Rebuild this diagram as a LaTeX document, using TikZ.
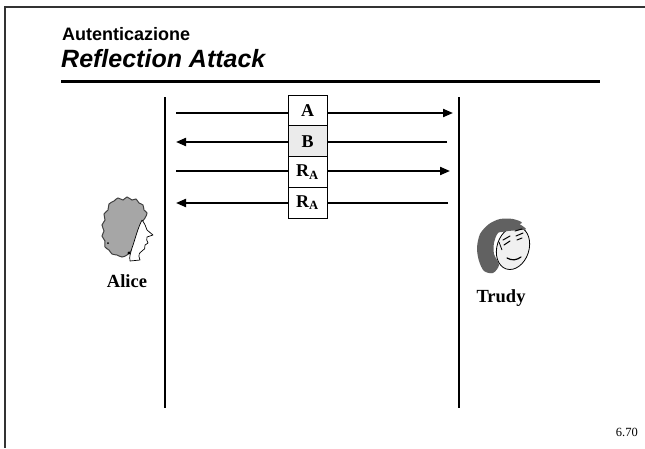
\documentclass[tikz,border=0pt]{standalone}
\usepackage{fontspec}
\setmainfont{Liberation Serif}
\newfontfamily\headfont{Liberation Sans}
\usetikzlibrary{arrows.meta}
\begin{document}
\begin{tikzpicture}[x=1pt,y=-1pt,
  lifeline/.style={line width=2.2pt},
  msg/.style={line width=2pt,-{Triangle[length=10pt,width=8pt]}},
  msgbox/.style={draw,line width=0.8pt,fill=white,minimum width=39pt,minimum height=30.8pt,inner sep=0pt,font=\bfseries\fontsize{18}{18}\selectfont},
  who/.style={font=\bfseries\fontsize{18.5}{18}\selectfont},
  framel/.style={line width=2pt,draw=black!80}]
\useasboundingbox (0,0) rectangle (645,448);
% slide frame
\coordinate (fTL) at (5,7);
\coordinate (fTR) at (645,7);
\coordinate (fBL) at (5,448);
\draw[framel] (fTR) -- (fTL) -- (fBL);
% title block
\node[anchor=base west,inner sep=0pt,font=\headfont\bfseries\fontsize{18}{18}\selectfont] (sub) at (62,40) {Autenticazione};
\node[anchor=base west,inner sep=0pt,font=\headfont\bfseries\itshape\fontsize{25}{25}\selectfont] (ttl) at (61,67) {Reflection Attack};
\coordinate (ruleL) at (61,81);
\coordinate (ruleR) at (600,81);
\draw[line width=3pt] (ruleL) -- (ruleR);
% lifelines
\coordinate (aTop) at (165,97);
\coordinate (aBot) at (165,408);
\coordinate (tTop) at (459,97);
\coordinate (tBot) at (459,408);
\draw[lifeline] (aTop) -- (aBot);
\draw[lifeline] (tTop) -- (tBot);
% arrow end points
\coordinate (a1) at (176,113);
\coordinate (t1) at (453,113);
\coordinate (t2) at (447,142);
\coordinate (a2) at (176,142);
\coordinate (a3) at (176,171);
\coordinate (t3) at (450,171);
\coordinate (t4) at (448,203);
\coordinate (a4) at (176,203);
\draw[msg] (a1) -- (t1);
\draw[msg] (t2) -- (a2);
\draw[msg] (a3) -- (t3);
\draw[msg] (t4) -- (a4);
% message boxes
\node[msgbox] (mA) at (307.5,110.4) {A};
\node[msgbox,fill=black!8] (mB) at (307.5,141.2) {B};
\node[msgbox] (mR1) at (307.5,172) {R\textsubscript{A}};
\node[msgbox] (mR2) at (307.5,202.8) {R\textsubscript{A}};
% Alice: curly hair with a bumpy outline
\draw[fill=black!35, draw=black!75, line width=1pt]
  plot[smooth cycle, tension=0.6] coordinates {(114,201) (118,198) (123,200) (127,197) (132,200) (136,199) (139,203) (143,205) (144,210) (147,213) (145,218) (142,222) (139,229) (136,237) (134,245) (131,251) (127,255) (122,257) (117,255) (112,254) (109,250) (105,247) (105,241) (102,236) (104,231) (102,225) (105,220) (104,214) (108,210) (109,204)};
\draw[fill=white,line width=0.7pt,line join=round]
  (142,220) .. controls (145,224) and (146,227) .. (147,230)
  -- (153,235) -- (147,237) .. controls (146,239) and (147,241) .. (148,243)
  -- (145,245) .. controls (146,248) and (144,250) .. (142,251)
  .. controls (139,253) and (138,255) .. (140,260)
  -- (130,261) .. controls (129,256) and (131,252) .. (132,248)
  .. controls (135,240) and (137,230) .. (142,220);
\fill (129,253) circle (1.6pt);
\fill (108,243) circle (1pt);
\node[who] (alice) at (127,281) {Alice};
% Trudy
\fill[black!62] plot[smooth cycle] coordinates {(489,224) (500,219) (513,219) (522,223) (508,227) (498,233) (494,243) (494,254) (499,265) (493,273) (484,271) (479,261) (477,248) (480,234)};
\draw[fill=black!6,line width=0.8pt,rotate around={-18:(513,248)}] (513,248) ellipse (16pt and 22pt);
\fill[black!62] plot[smooth cycle] coordinates {(498,232) (506,224) (517,223) (526,229) (519,230) (508,231)};
\draw[line width=1pt,line cap=round] (503,240) -- (510,236) (504,245) -- (510,241);
\draw[line width=1pt,line cap=round] (516,236) -- (523,233) (517,240) -- (522,238) (515,231) -- (522,229);
\draw[line width=1.2pt,line cap=round] (507,258) .. controls (512,261) and (517,260) .. (521,257);
\draw[line width=0.8pt] (499,242) -- (502,250);
\node[who] (trudy) at (501,298) {Trudy};
% page number
\node[anchor=base east,inner sep=0pt,font=\fontsize{12.5}{13}\selectfont] (pg) at (638,436) {6.70};
\end{tikzpicture}
\end{document}
